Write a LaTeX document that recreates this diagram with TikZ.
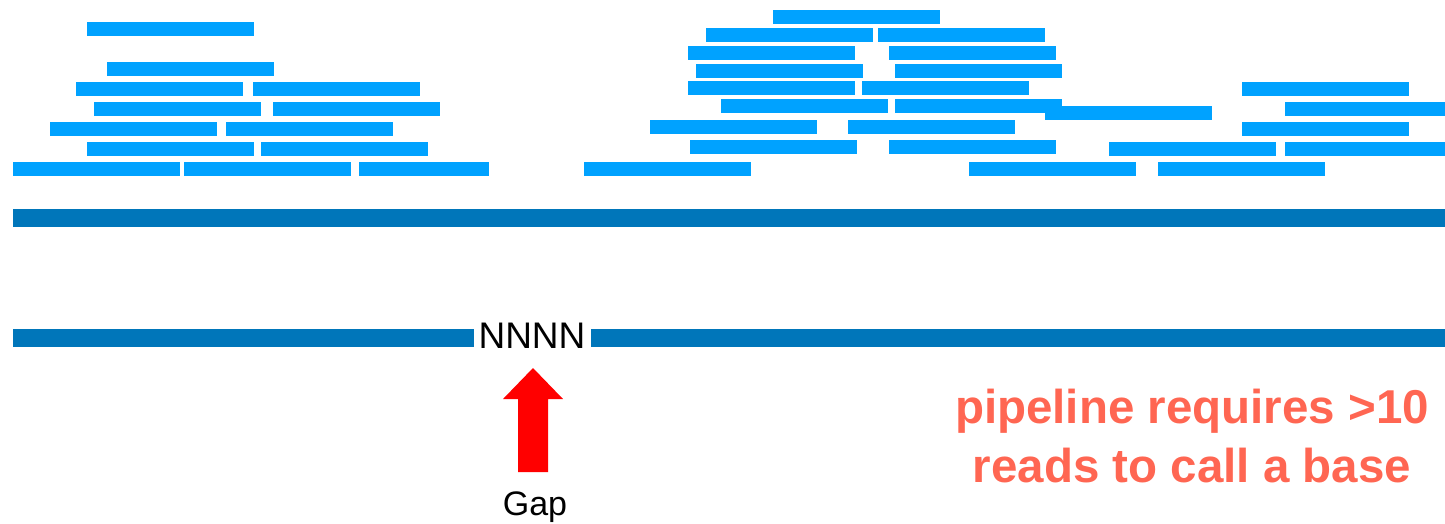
\documentclass[tikz,border=0pt]{standalone}
\usepackage{fontspec}
\setmainfont{Liberation Sans}
\definecolor{readblue}{RGB}{0,162,255}
\definecolor{refblue}{RGB}{0,118,186}
\definecolor{noteorange}{RGB}{255,102,82}
\definecolor{gapred}{RGB}{255,0,0}
\tikzset{
  readbar/.style={fill=readblue},
  refbar/.style={fill=refblue},
  label/.style={inner sep=0pt, text=black},
  note/.style={inner sep=0pt, text=noteorange, font=\bfseries\fontsize{47.5}{59}\selectfont},
}
\begin{document}
\begin{tikzpicture}[x=1pt,y=-1pt]
\useasboundingbox (0,0) rectangle (1445,523);
% reads: {x1/y1/x2}
\foreach \xa/\ya/\xb in {
  87/22/254,
  107/62/274,
  76/82/243, 253/82/420,
  94/102/261, 273/102/440,
  50/122/217, 226/122/393,
  87/142/254, 261/142/428,
  13/162/180, 184/162/351, 359/162/489,
  773/10/940,
  706/28/873, 878/28/1045,
  688/46/855, 889/46/1056,
  696/64/863, 895/64/1062,
  688/81/855, 862/81/1029, 1242/82/1409,
  721/99/888, 895/99/1062, 1285/102/1445,
  1045/106/1212,
  650/120/817, 848/120/1015, 1242/122/1409,
  690/140/857, 889/140/1056,
  1109/142/1276, 1285/142/1445,
  584/162/751, 969/162/1136, 1158/162/1325}
  \fill[readbar] (\xa,\ya) rectangle (\xb,\ya+14);
% reference lines
\fill[refbar] (13,209) rectangle (1445,227);
\fill[refbar] (13,329) rectangle (474,347);
\fill[refbar] (591,329) rectangle (1445,347);
\node[label, anchor=base, font=\fontsize{37}{40}\selectfont] (nnnn) at (532,348) {NNNN};
% gap arrow
\fill[gapred] (533,368) -- (563,399) -- (548,399) -- (548,472) -- (518,472) -- (518,399) -- (503,399) -- cycle;
\node[label, anchor=base, font=\fontsize{34}{38}\selectfont] (gap) at (535,515) {Gap};
\node[note, anchor=base] (note1) at (1192,423) {pipeline requires >10};
\node[note, anchor=base] (note2) at (1192,482) {reads to call a base};
\end{tikzpicture}
\end{document}
